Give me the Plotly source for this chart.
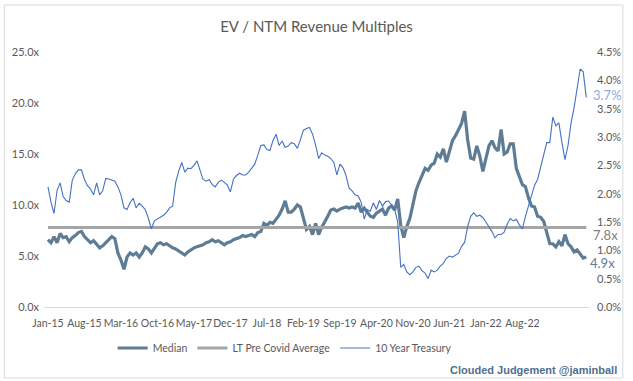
import plotly.graph_objects as go

# ---------------- data ----------------
tick_labels = ["Jan-15", "Aug-15", "Mar-16", "Oct-16", "May-17", "Dec-17", "Jul-18",
               "Feb-19", "Sep-19", "Apr-20", "Nov-20", "Jun-21", "Jan-22", "Aug-22"]
points_per_label = 12

left_ticks = [0, 5, 10, 15, 20, 25]
right_ticks = [0, 0.5, 1, 1.5, 2, 2.5, 3, 3.5, 4, 4.5]

median_multiple = [
    6.6, 6.3, 6.9, 6.3, 7.2, 6.8, 6.9, 6.4, 6.8, 7.0,
    7.3, 7.4, 6.9, 6.6, 6.3, 6.5, 6.2, 5.8, 6.0, 6.3,
    6.6, 6.9, 6.7, 5.3, 4.6, 3.7, 4.9, 5.3, 5.1, 5.3,
    4.9, 5.3, 5.9, 5.7, 5.3, 5.8, 6.2, 6.3, 6.1, 6.2,
    6.0, 5.8, 5.7, 5.5, 5.3, 5.1, 5.4, 5.6, 5.8, 5.9,
    6.0, 6.1, 6.3, 6.4, 6.6, 6.4, 6.5, 6.3, 6.1, 6.3,
    6.4, 6.6, 6.7, 6.8, 7.0, 6.9, 7.0, 7.1, 6.9, 7.3,
    7.4, 8.2, 8.0, 8.3, 8.2, 8.6, 9.0, 9.6, 10.4, 9.3,
    9.3, 9.6, 10.0, 9.8, 8.6, 7.6, 7.9, 7.1, 8.2, 7.1,
    7.8, 8.3, 8.9, 9.5, 9.6, 9.4, 9.6, 9.7, 9.8, 9.7,
    9.8, 9.7, 10.2, 9.3, 9.7, 9.3, 8.9, 8.8, 9.2, 9.4,
    9.6, 9.0, 9.7, 9.9, 9.5, 10.6, 8.0, 6.8, 7.9, 8.7,
    10.1, 11.4, 12.2, 12.9, 13.6, 13.4, 13.9, 14.1, 15.0, 14.7,
    15.5, 14.2, 15.4, 16.3, 16.8, 17.4, 18.0, 19.2, 16.4, 14.6,
    14.5, 15.8, 14.8, 13.3, 14.6, 15.8, 16.3, 15.6, 15.3, 17.4,
    15.0, 15.2, 16.0, 16.0, 13.6, 12.8, 12.0, 11.8, 10.7, 9.9,
    9.8, 8.9, 8.8, 8.4, 7.3, 6.2, 6.2, 5.9, 6.4, 6.0,
    7.1, 6.2, 5.9, 5.4, 5.6, 5.2, 4.8, 4.9,
]

treasury_10y = [
    2.12, 1.85, 1.65, 2.06, 2.19, 1.95, 1.88, 1.85, 2.24, 2.35,
    2.42, 2.42, 2.25, 2.14, 2.08, 1.98, 2.19, 1.98, 2.05, 2.27,
    2.26, 2.24, 2.22, 2.12, 1.98, 1.75, 1.72, 1.84, 1.92, 1.75,
    1.83, 1.78, 1.72, 1.57, 1.38, 1.52, 1.55, 1.59, 1.62, 1.67,
    1.75, 1.78, 2.20, 2.40, 2.55, 2.38, 2.45, 2.44, 2.50, 2.58,
    2.42, 2.25, 2.22, 2.25, 2.16, 2.12, 2.20, 2.24, 2.20, 2.15,
    2.03, 2.26, 2.32, 2.36, 2.33, 2.33, 2.38, 2.45, 2.52, 2.68,
    2.85, 2.86, 2.78, 2.76, 2.94, 3.05, 2.85, 2.93, 2.82, 2.84,
    2.90, 2.88, 2.80, 2.95, 3.12, 3.15, 3.17, 3.05, 2.86, 2.62,
    2.72, 2.68, 2.66, 2.62, 2.55, 2.33, 2.52, 2.46, 2.32, 2.10,
    2.05, 1.98, 1.96, 1.85, 1.55, 1.72, 1.69, 1.84, 1.72, 1.88,
    1.78, 1.86, 1.87, 1.80, 1.72, 1.50, 0.70, 0.75, 0.62, 0.57,
    0.62, 0.70, 0.72, 0.64, 0.60, 0.50, 0.65, 0.62, 0.65, 0.72,
    0.77, 0.86, 0.90, 0.88, 0.92, 0.95, 1.07, 1.14, 1.42, 1.60,
    1.66, 1.60, 1.62, 1.58, 1.50, 1.42, 1.33, 1.22, 1.28, 1.28,
    1.32, 1.46, 1.56, 1.52, 1.55, 1.45, 1.38, 1.60, 1.80, 1.95,
    2.15, 2.25, 2.45, 2.65, 2.90, 2.90, 3.35, 3.20, 3.25, 2.90,
    2.60, 2.85, 3.25, 3.52, 3.90, 4.20, 4.15, 3.70,
]

lt_pre_covid_avg = 7.8

# ---------------- styling ----------------
W, H = 633, 381
M_L, M_R, M_T, M_B = 44, 41, 52, 74
PW, PH = W - M_L - M_R, H - M_T - M_B

C_MEDIAN = "#5e7d95"
C_AVG = "#a5a5a5"
C_TSY = "#4472c4"
C_TEXT = "#595959"
FONT = "Lato"

idx = list(range(len(median_multiple)))
last = idx[-1]

fig = go.Figure()
fig.add_trace(go.Scatter(x=idx, y=median_multiple, name="Median", mode="lines",
                         line=dict(color=C_MEDIAN, width=3.2)))
fig.add_trace(go.Scatter(x=idx, y=[lt_pre_covid_avg] * len(idx), name="LT Pre Covid Average",
                         mode="lines", line=dict(color=C_AVG, width=3)))
fig.add_trace(go.Scatter(x=idx, y=treasury_10y, name="10 Year Treasury", mode="lines",
                         line=dict(color=C_TSY, width=1.1), yaxis="y2"))

tickvals = [k * points_per_label for k in range(len(tick_labels))]

fig.update_layout(
    width=W, height=H,
    margin=dict(l=M_L, r=M_R, t=M_T, b=M_B),
    paper_bgcolor="white", plot_bgcolor="white",
    font=dict(family=FONT, size=11, color=C_TEXT),
    title=dict(text="EV / NTM Revenue Multiples", x=0.5, xanchor="center",
               y=1 - 27 / H, yanchor="middle",
               font=dict(family=FONT, size=15, color=C_TEXT)),
    xaxis=dict(range=[-1.3, last + 0.9], tickvals=tickvals, ticktext=tick_labels,
               showgrid=False, zeroline=False, showline=True, linecolor="#d9d9d9",
               linewidth=1, ticks="", tickangle=0, ticklabelstandoff=6,
               tickfont=dict(size=10.5, color=C_TEXT)),
    yaxis=dict(range=[0, 25], tickvals=left_ticks,
               ticktext=[f"{v:.1f}x" for v in left_ticks],
               showgrid=False, zeroline=False, showline=False,
               ticks="", ticklabelstandoff=4, tickfont=dict(size=11, color=C_TEXT)),
    yaxis2=dict(range=[0, 4.5], overlaying="y", side="right", tickvals=right_ticks,
                ticktext=[f"{v:.1f}%" for v in right_ticks],
                showgrid=False, zeroline=False, showline=False,
                ticks="", ticklabelstandoff=7, tickfont=dict(size=11, color=C_TEXT)),
    legend=dict(orientation="h", x=(286 - M_L) / PW, xanchor="center",
                y=-(348 - (H - M_B)) / PH, yanchor="middle",
                font=dict(size=10.5, color=C_TEXT), itemwidth=30,
                bgcolor="rgba(0,0,0,0)"),
    showlegend=True,
)

# end-of-series data labels
fig.add_annotation(x=last, y=treasury_10y[-1], xref="x", yref="y2",
                   text=f"{treasury_10y[-1]:.1f}%", showarrow=False,
                   xanchor="left", xshift=5, yshift=2,
                   font=dict(size=13, color="#8eaadb", family=FONT))
fig.add_annotation(x=last, y=lt_pre_covid_avg, xref="x", yref="y",
                   text=f"{lt_pre_covid_avg:.1f}x", showarrow=False,
                   xanchor="left", xshift=5, yshift=-8,
                   font=dict(size=13, color="#7f7f7f", family=FONT))
fig.add_annotation(x=last, y=median_multiple[-1], xref="x", yref="y",
                   text=f"{median_multiple[-1]:.1f}x", showarrow=False,
                   xanchor="left", xshift=2, yshift=-6,
                   font=dict(size=13, color=C_MEDIAN, family=FONT))

# watermark
fig.add_annotation(x=1 + (622 - (W - M_R)) / PW, y=-(370 - (H - M_B)) / PH,
                   xref="paper", yref="paper", text="<b>Clouded Judgement @jaminball</b>",
                   showarrow=False, xanchor="right", yanchor="middle",
                   font=dict(family="Liberation Sans", size=11, color="#4f6f8f"))

# chart-area border
fig.add_shape(type="rect", xref="paper", yref="paper",
              x0=(4 - M_L) / PW, x1=1 + (626 - (W - M_R)) / PW,
              y0=-(378 - (H - M_B)) / PH, y1=1 + (M_T - 5) / PH,
              line=dict(color="#d9d9d9", width=1), fillcolor="rgba(0,0,0,0)", layer="below")

fig.write_html("out.html", config={"displayModeBar": False},
               post_script="document.body.style.margin='0';")
